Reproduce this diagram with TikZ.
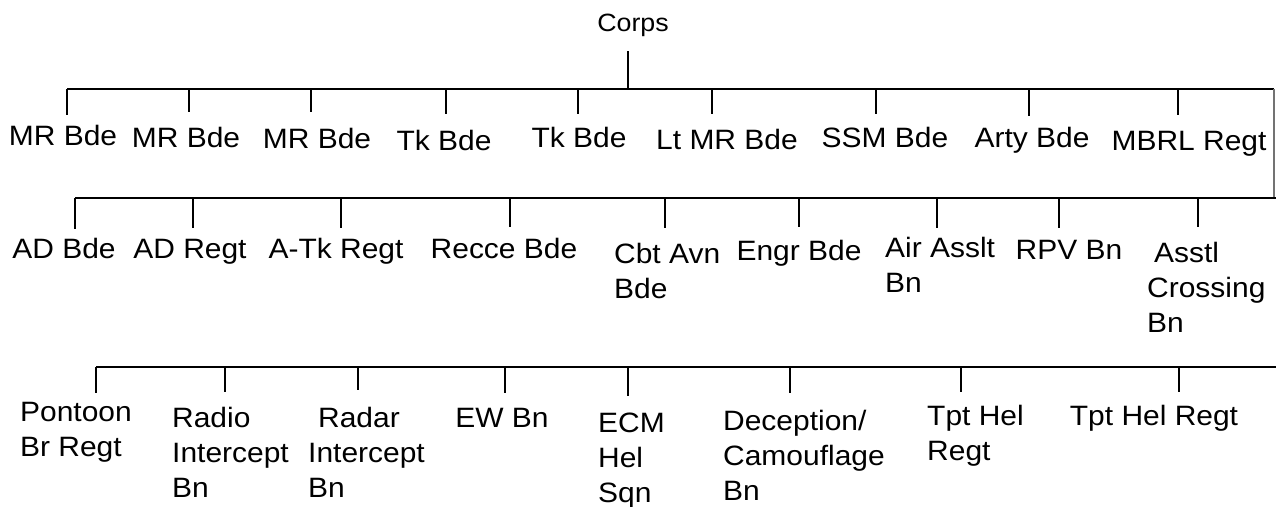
\documentclass[tikz,border=0pt]{standalone}
\usepackage{fontspec}
\setmainfont{Liberation Sans}[FakeStretch=1.07]
\usetikzlibrary{positioning}
\tikzset{
  unit/.style={inner sep=0pt, font=\fontsize{28}{35}\selectfont, align=left},
  bar/.style={line width=2pt},
  tick/.style={line width=2pt},
  wrap/.style={line width=1.5pt, black!55},
}
\begin{document}
\begin{tikzpicture}[x=1pt,y=-1pt]
\useasboundingbox (0,0) rectangle (1276,506);
\node[unit, font=\fontsize{25}{30}\selectfont, anchor=base] (corps) at (633,31) {Corps};
% first row
\node[unit, anchor=base] (mra) at (63,145) {MR Bde};
\node[unit, anchor=base] (mrb) at (186,147) {MR Bde};
\node[unit, anchor=base] (mrc) at (317,148) {MR Bde};
\node[unit, anchor=base] (tka) at (444,150) {Tk Bde};
\node[unit, anchor=base] (tkb) at (579,147) {Tk Bde};
\node[unit, anchor=base] (ltmr) at (727,149) {Lt MR Bde};
\node[unit, anchor=base] (ssm) at (885,147) {SSM Bde};
\node[unit, anchor=base] (arty) at (1032,147) {Arty Bde};
\node[unit, anchor=base] (mbrl) at (1189,150) {MBRL Regt};
% second row
\node[unit, anchor=base] (adb) at (64,258) {AD Bde};
\node[unit, anchor=base] (adr) at (190,258) {AD Regt};
\node[unit, anchor=base] (atk) at (336,258) {A-Tk Regt};
\node[unit, anchor=base] (recce) at (504,258) {Recce Bde};
\node[unit, anchor=north west] (cbt) at (614,243) {Cbt Avn\\Bde};
\node[unit, anchor=base] (engr) at (799,260) {Engr Bde};
\node[unit, anchor=north west] (aaslt) at (885,237) {Air Asslt\\Bn};
\node[unit, anchor=base] (rpv) at (1069,259) {RPV Bn};
\node[unit, anchor=north west] (xing) at (1147,242) {\hspace*{7pt}Asstl\\Crossing\\Bn};
% third row
\node[unit, anchor=north west] (pont) at (20,402) {Pontoon\\Br Regt};
\node[unit, anchor=north west] (radio) at (172,407) {Radio\\Intercept\\Bn};
\node[unit, anchor=north west] (radar) at (308,407) {\hspace*{10pt}Radar\\Intercept\\Bn};
\node[unit, anchor=base] (ew) at (502,427) {EW Bn};
\node[unit, anchor=north west] (ecm) at (598,413) {ECM\\Hel\\Sqn};
\node[unit, anchor=north west] (decep) at (723,410) {Deception/\\Camouflage\\Bn};
\node[unit, anchor=north west] (tpta) at (927,405) {Tpt Hel\\Regt};
\node[unit, anchor=base] (tptb) at (1154,425) {Tpt Hel Regt};
% bars
\coordinate (stem) at (628,89);
\coordinate (r1w) at (67,89);
\coordinate (r1e) at (1274,89);
\coordinate (r2w) at (75,198);
\coordinate (r2e) at (1276,198);
\coordinate (r3w) at (96,367);
\coordinate (r3e) at (1276,367);
\draw[tick, shorten >=15pt] (stem) -- (stem |- corps.south);
\draw[bar] (r1w) -- (r1e);
\draw[wrap] (r1e) -- (r1e |- r2e);
\draw[bar] (r2w) -- (r2e);
\draw[bar] (r3w) -- (r3e);
% ticks
\foreach \x/\g/\n in {67/10/mra,189/15/mrb,311/16/mrc,446/16/tka,578/13/tkb,712/15/ltmr,876/13/ssm,1029/11/arty,1178/16/mbrl}{
  \coordinate (t\n) at (\x,89);
  \draw[tick, shorten >=\g pt] (t\n) -- (t\n |- \n.north);
}
\foreach \x/\g/\n in {75/9/adb,193/11/adr,341/10/atk,510/11/recce,665/15/cbt,799/13/engr,937/9/aaslt,1059/12/rpv,1198/15/xing}{
  \coordinate (t\n) at (\x,198);
  \draw[tick, shorten >=\g pt] (t\n) -- (t\n |- \n.north);
}
\foreach \x/\g/\n in {96/9/pont,225/15/radio,358/17/radar,505/15/ew,628/17/ecm,790/17/decep,961/13/tpta,1179/13/tptb}{
  \coordinate (t\n) at (\x,367);
  \draw[tick, shorten >=\g pt] (t\n) -- (t\n |- \n.north);
}
\end{tikzpicture}
\end{document}
